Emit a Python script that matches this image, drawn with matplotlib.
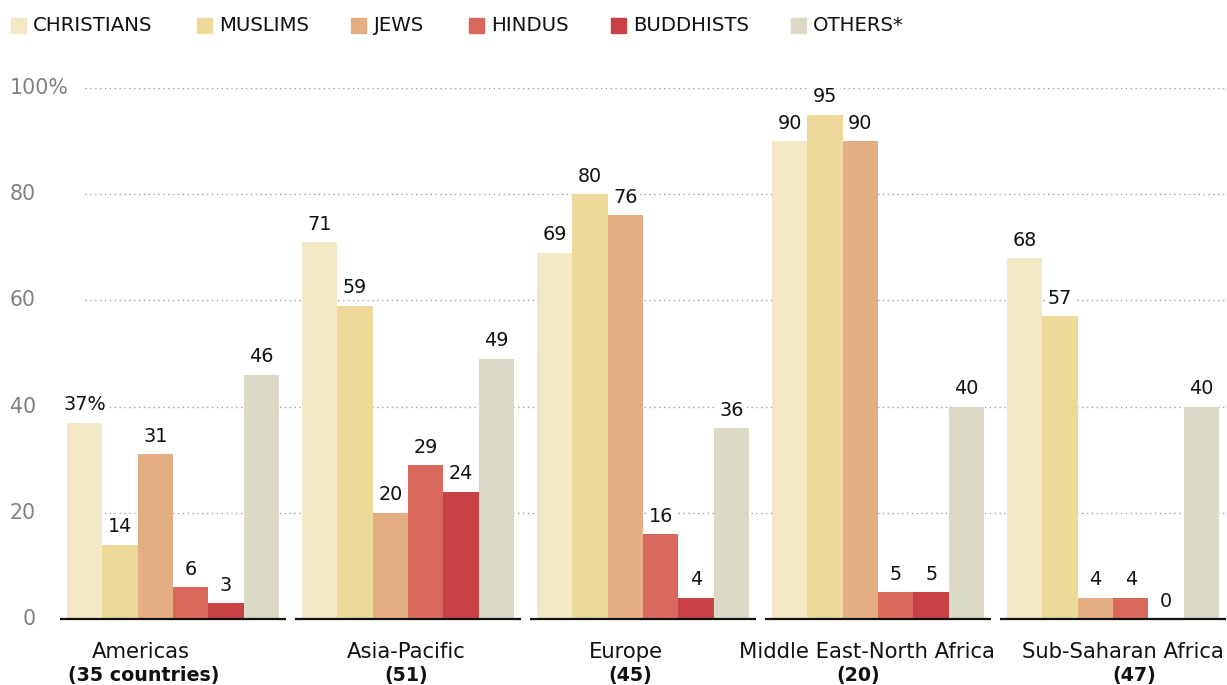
import numpy as np
import matplotlib.pyplot as plt
from matplotlib.patches import Rectangle

# Data
regions = ["Americas", "Asia-Pacific", "Europe", "Middle East-North Africa", "Sub-Saharan Africa"]
counts = ["(35 countries)", "(51)", "(45)", "(20)", "(47)"]
groups = ["CHRISTIANS", "MUSLIMS", "JEWS", "HINDUS", "BUDDHISTS", "OTHERS*"]
christians = [37, 71, 69, 90, 68]
muslims = [14, 59, 80, 95, 57]
jews = [31, 20, 76, 90, 4]
hindus = [6, 29, 16, 5, 4]
buddhists = [3, 24, 4, 5, 0]
others = [46, 49, 36, 40, 40]
yticks = [0, 20, 40, 60, 80, 100]

series = [christians, muslims, jews, hindus, buddhists, others]
colors = ["#F2E8C4", "#EDD999", "#E4AE83", "#D8685B", "#C84144", "#DCD9C6"]

W, H = 1227, 685
AX_L = 45
fig = plt.figure(figsize=(W / 100, H / 100), dpi=100)
ax = fig.add_axes([AX_L / W, (H - 619) / H, 1 - AX_L / W, (619 - 88) / H])

# 235 px between region centres, first centre at x=173 px
x = np.arange(len(regions))
x0 = (AX_L - 173) / 235
x1 = x0 + (W - AX_L) / 235
bw = 0.1506
for i, (vals, col) in enumerate(zip(series, colors)):
    xs = x + (i - 2.5) * bw
    ax.bar(xs, vals, width=bw, color=col, zorder=2)
    for xi, v, r in zip(xs, vals, range(len(regions))):
        txt = f"{v}%" if (i == 0 and r == 0) else f"{v}"
        ax.annotate(txt, (xi, v), xytext=(0, 6), textcoords="offset points",
                    ha="center", va="bottom", fontsize=13.8, color="#111111",
                    bbox=dict(boxstyle="square,pad=0.15", fc="white", ec="none"),
                    zorder=4)

# dotted gridlines, starting right of the tick labels
g0 = (85 - AX_L) / (W - AX_L)
for t in yticks[1:]:
    ax.axhline(t, xmin=g0, xmax=1, color="#a0a0a0", lw=1, ls=(0, (1, 2.5)), zorder=1)

# separate baselines per region
for c in x:
    ax.plot([c - 0.48, c + 0.48], [0, 0], color="#111111", lw=1.6,
            zorder=3, solid_capstyle="butt", clip_on=False)

ax.set_xlim(x0, x1)
ax.set_ylim(0, 100)
ax.axis("off")

# y tick labels
for t in yticks:
    yp = 619 - t * 5.31
    if t == 100:
        fig.text(10 / W, 1 - yp / H, "100%", ha="left", va="center",
                 fontsize=14.8, color="#808080")
    else:
        fig.text(36 / W, 1 - yp / H, str(t), ha="right", va="center",
                 fontsize=14.8, color="#808080")

# region labels (small horizontal nudges, in points, as in the original)
nudge1 = [-23, -1, -12, -8, 7]
nudge2 = [-21, -1, -9, -14, 15]
for c, name, n, d1, d2 in zip(x, regions, counts, nudge1, nudge2):
    ax.annotate(name, (c, 0), xytext=(d1, -24), textcoords="offset points",
                ha="center", va="center", fontsize=15.2, color="#111111",
                annotation_clip=False)
    ax.annotate(n, (c, 0), xytext=(d2, -41), textcoords="offset points",
                ha="center", va="center", fontsize=13.7, fontweight="bold",
                color="#111111", annotation_clip=False)

# legend across the top
leg_x = [11, 197, 351, 469, 611, 791]
for lx, name, col in zip(leg_x, groups, colors):
    fig.patches.append(Rectangle((lx / W, 1 - 33 / H), 15 / W, 15 / H,
                                 transform=fig.transFigure, color=col))
    fig.text((lx + 22) / W, 1 - 25.5 / H, name, ha="left", va="center",
             fontsize=14.2, color="#111111")

fig.savefig("out.png", dpi=100)
